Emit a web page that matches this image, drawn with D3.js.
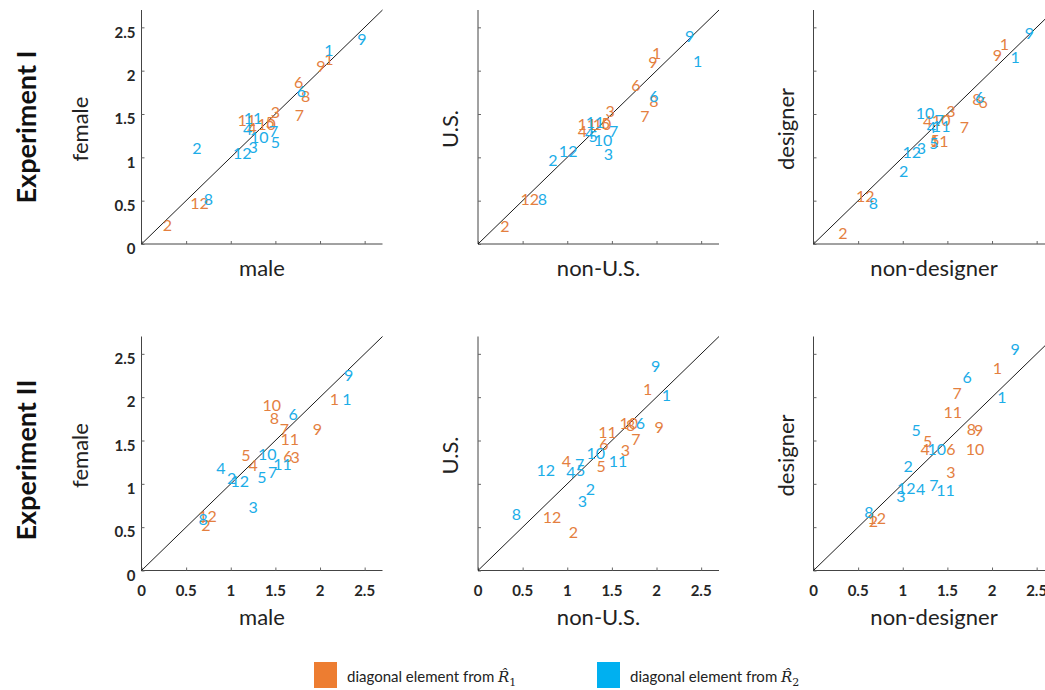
<!DOCTYPE html>
<html>
<head>
<meta charset="utf-8">
<script src="https://cdn.jsdelivr.net/npm/d3@7"></script>
<style>
  body { margin: 0; background: #fff; }
  svg { display: block; font-family: Lato, "Open Sans", sans-serif; }
  .tick-label { font-weight: bold; font-size: 15px; fill: #262626; }
  .axis-title { font-size: 22px; fill: #222; }
  .row-title { font-size: 27px; font-weight: bold; fill: #111; }
  .pt { font-size: 16px; }
</style>
</head>
<body>
<div id="chart"></div>
<script>
// element ids 1..12, [x, y] per element
var elements = [1, 2, 3, 4, 5, 6, 7, 8, 9, 10, 11, 12];
var ticks = [0, 0.5, 1, 1.5, 2, 2.5];
var rowTitles = ["Experiment I", "Experiment II"];
var xTitles = ["male", "non-U.S.", "non-designer"];
var yTitles = ["female", "U.S.", "designer"];
var legendLabels = ["diagonal element from ", "diagonal element from "];

// Experiment I
var e1GenderR1 = [[2.10,2.13],[0.29,0.22],[1.50,1.52],[1.24,1.33],[1.44,1.40],[1.76,1.86],
                  [1.77,1.48],[1.84,1.70],[2.01,2.05],[1.40,1.38],[1.18,1.43],[0.65,0.47]];
var e1GenderR2 = [[2.10,2.23],[0.62,1.10],[1.25,1.11],[1.19,1.32],[1.50,1.17],[1.79,1.76],
                  [1.48,1.30],[0.75,0.51],[2.47,2.36],[1.32,1.23],[1.25,1.45],[1.13,1.04]];
var e1NationR1 = [[2.00,2.20],[0.30,0.20],[1.48,1.53],[1.17,1.30],[1.43,1.39],[1.77,1.83],
                  [1.87,1.47],[1.97,1.65],[1.96,2.10],[1.39,1.38],[1.22,1.38],[0.58,0.51]];
var e1NationR2 = [[2.46,2.11],[0.84,0.96],[1.46,1.03],[1.25,1.28],[1.29,1.24],[1.97,1.70],
                  [1.52,1.30],[0.72,0.52],[2.37,2.39],[1.40,1.20],[1.31,1.40],[1.01,1.07]];
var e1DesignR1 = [[2.14,2.30],[0.33,0.12],[1.54,1.53],[1.28,1.42],[1.36,1.20],[1.90,1.63],
                  [1.69,1.34],[1.83,1.67],[2.06,2.18],[1.43,1.43],[1.41,1.18],[0.58,0.55]];
var e1DesignR2 = [[2.26,2.15],[1.01,0.84],[1.21,1.10],[1.32,1.35],[1.35,1.16],[1.86,1.69],
                  [1.41,1.43],[0.67,0.47],[2.42,2.43],[1.25,1.51],[1.43,1.36],[1.10,1.06]];

// Experiment II
var e2GenderR1 = [[2.16,1.98],[0.72,0.52],[1.72,1.31],[1.25,1.21],[1.17,1.33],[1.64,1.32],
                  [1.60,1.63],[1.49,1.76],[1.97,1.63],[1.46,1.90],[1.66,1.51],[0.74,0.62]];
var e2GenderR2 = [[2.30,1.97],[1.01,1.06],[1.25,0.73],[0.89,1.18],[1.35,1.08],[1.70,1.80],
                  [1.47,1.13],[0.69,0.59],[2.32,2.25],[1.41,1.34],[1.58,1.22],[1.10,1.03]];
var e2NationR1 = [[1.90,2.09],[1.07,0.44],[1.65,1.39],[0.99,1.26],[1.38,1.20],[1.41,1.46],
                  [1.77,1.51],[1.71,1.68],[2.03,1.65],[1.69,1.70],[1.45,1.59],[0.83,0.61]];
var e2NationR2 = [[2.11,2.02],[1.26,0.94],[1.17,0.80],[1.04,1.13],[1.15,1.15],[1.82,1.70],
                  [1.14,1.23],[0.43,0.65],[1.99,2.35],[1.32,1.35],[1.57,1.26],[0.76,1.15]];
var e2DesignR1 = [[2.06,2.33],[0.67,0.57],[1.54,1.13],[1.25,1.40],[1.28,1.49],[1.54,1.40],
                  [1.61,2.04],[1.77,1.63],[1.85,1.62],[1.81,1.40],[1.56,1.82],[0.71,0.60]];
var e2DesignR2 = [[2.11,2.00],[1.06,1.20],[0.98,0.85],[1.20,0.94],[1.15,1.62],[1.72,2.23],
                  [1.35,0.98],[0.62,0.67],[2.26,2.55],[1.38,1.40],[1.48,0.93],[1.04,0.95]];

var panels = [
  [[e1GenderR1, e1GenderR2], [e1NationR1, e1NationR2], [e1DesignR1, e1DesignR2]],
  [[e2GenderR1, e2GenderR2], [e2NationR1, e2NationR2], [e2DesignR1, e2DesignR2]]
];

var colors = ["#ED7D31", "#00B0F0"];
var ptColors = ["#E47F3F", "#1CADE8"];

var W = 1045, H = 690;
var colLeft = [141.5, 478, 813.5];
var rowTop = [10, 336.5];
var rowTitleY = [127, 460];
var pw = 241, ph = 234;
var maxV = 2.7;

var svg = d3.select("#chart").append("svg")
  .attr("width", W)
  .attr("height", H);

var x = d3.scaleLinear().domain([0, maxV]).range([0, pw]);
var y = d3.scaleLinear().domain([0, maxV]).range([ph, 0]);

rowTitles.forEach(function(title, r) {
  svg.append("text")
    .attr("class", "row-title")
    .attr("transform", "translate(36," + rowTitleY[r] + ") rotate(-90)")
    .attr("text-anchor", "middle")
    .text(title);

  panels[r].forEach(function(series, c) {
    var g = svg.append("g")
      .attr("transform", "translate(" + colLeft[c] + "," + rowTop[r] + ")");

    // axes: inward ticks, labels only where the original had them
    var xa = g.append("g")
      .attr("transform", "translate(0," + ph + ")")
      .call(d3.axisTop(x).tickValues(ticks).tickSize(3).tickFormat(""));
    var ya = g.append("g")
      .call(d3.axisRight(y).tickValues(ticks).tickSize(3).tickFormat(""));
    [xa, ya].forEach(function(a) {
      a.select(".domain").attr("stroke", "#444").attr("d",
        a === xa ? "M0,0H" + pw : "M0,0V" + ph);
      a.selectAll(".tick line").attr("stroke", "#666");
    });

    if (c === 0) {
      g.selectAll(".ylab").data(ticks).enter().append("text")
        .attr("class", "tick-label")
        .attr("x", -6)
        .attr("y", function(d) { return y(d) + 5; })
        .attr("dy", "0.35em")
        .attr("text-anchor", "end")
        .text(function(d) { return d; });
    }
    if (r === 1) {
      g.selectAll(".xlab").data(ticks).enter().append("text")
        .attr("class", "tick-label")
        .attr("x", function(d) { return x(d); })
        .attr("y", ph + 20)
        .attr("dy", "0.35em")
        .attr("text-anchor", "middle")
        .text(function(d) { return d; });
    }

    // identity line
    g.append("line")
      .attr("x1", x(0)).attr("y1", y(0))
      .attr("x2", x(maxV)).attr("y2", y(maxV))
      .attr("stroke", "#000")
      .attr("stroke-width", 0.9);

    // axis titles
    g.append("text")
      .attr("class", "axis-title")
      .attr("x", pw / 2)
      .attr("y", r === 0 ? ph + 32 : ph + 54)
      .attr("text-anchor", "middle")
      .text(xTitles[c]);
    g.append("text")
      .attr("class", "axis-title")
      .attr("transform", "translate(" + (c === 0 ? -54 : -20) + "," + (ph / 2 + 2) + ") rotate(-90)")
      .attr("text-anchor", "middle")
      .text(yTitles[c]);

    // numbered points, R1 first then R2 on top
    series.forEach(function(pts, s) {
      g.selectAll(".s" + s).data(pts).enter().append("text")
        .attr("class", "pt s" + s)
        .attr("x", function(d) { return x(d[0]); })
        .attr("y", function(d) { return y(d[1]); })
        .attr("dy", "0.35em")
        .attr("text-anchor", "middle")
        .attr("fill", ptColors[s])
        .text(function(d, i) { return elements[i]; });
    });
  });
});

// legend
var legX = [314, 597];
legendLabels.forEach(function(lab, i) {
  var lg = svg.append("g").attr("transform", "translate(" + legX[i] + ",662)");
  lg.append("rect")
    .attr("width", 23).attr("height", 26)
    .attr("fill", colors[i]);
  var t = lg.append("text")
    .attr("x", 33).attr("y", 20)
    .attr("font-size", 15)
    .attr("fill", "#222")
    .text(lab);
  t.append("tspan")
    .attr("font-family", "DejaVu Serif")
    .attr("font-style", "italic")
    .text("R\u0302");
  t.append("tspan")
    .attr("font-family", "DejaVu Serif")
    .attr("font-size", 11)
    .attr("dy", 4)
    .text(i + 1);
});
</script>
</body>
</html>
